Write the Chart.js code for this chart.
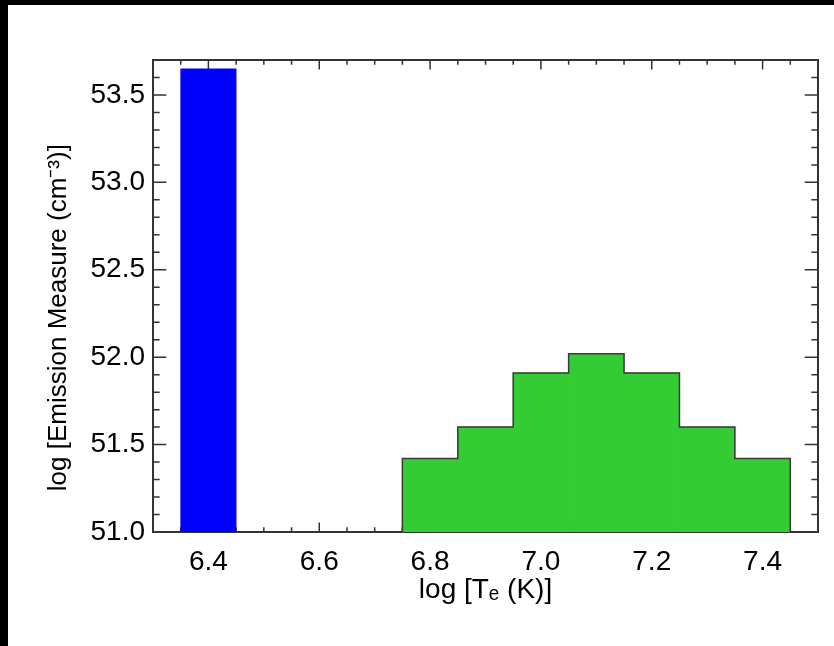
<!DOCTYPE html>
<html>
<head>
<meta charset="utf-8">
<script src="https://cdn.jsdelivr.net/npm/chart.js@4"></script>
<style>
    html, body { margin: 0; padding: 0; background: #000; width: 834px; height: 646px; overflow: hidden; }
    #em-chart { position: absolute; left: 8px; top: 5px; background: #fff; }
</style>
</head>
<body>
<canvas id="em-chart" width="826" height="641"></canvas>
<script>
// Emission measure distribution (bin centres in log T, values in log EM)
const coolTemps = [6.4];
const coolEM = [53.65];
const hotTemps = [6.8, 6.9, 7.0, 7.1, 7.2, 7.3, 7.4];
const hotEM = [51.42, 51.60, 51.91, 52.02, 51.91, 51.60, 51.42];
const binWidth = 0.1;

// Axes
const xMin = 6.3, xMax = 7.5;
const yMin = 51.0, yMax = 53.7;
const xTickValues = [6.4, 6.6, 6.8, 7.0, 7.2, 7.4];
const yTickValues = [51.0, 51.5, 52.0, 52.5, 53.0, 53.5];
const xMinorStep = 0.05;
const yMinorStep = 0.1;

const axisColor = '#333333';
const fontFamily = '"Liberation Sans", Arial, Helvetica, sans-serif';

// Outline of the histogram: step line over the bin edges
const outline = [{ x: hotTemps[0] - binWidth / 2, y: yMin }];
hotTemps.forEach((t, i) => outline.push({ x: t - binWidth / 2, y: hotEM[i] }));
outline.push({ x: hotTemps[hotTemps.length - 1] + binWidth / 2, y: hotEM[hotEM.length - 1] });
outline.push({ x: hotTemps[hotTemps.length - 1] + binWidth / 2, y: yMin });

// IDL-style inward ticks on all four sides
const inwardTicks = {
    id: 'inwardTicks',
    beforeDatasetsDraw(chart) {
        const { ctx, chartArea: a, scales: { x, y } } = chart;
        const xMajor = 0.02 * (a.bottom - a.top);
        const yMajor = 0.02 * (a.right - a.left);
        ctx.save();
        ctx.strokeStyle = axisColor;
        ctx.lineWidth = 1.5;
        ctx.beginPath();
        for (let v = xMin + xMinorStep; v < xMax - 1e-6; v += xMinorStep) {
            const isMajor = xTickValues.some(t => Math.abs(t - v) < 1e-6);
            const len = isMajor ? xMajor : xMajor / 2;
            const px = x.getPixelForValue(v);
            ctx.moveTo(px, a.bottom); ctx.lineTo(px, a.bottom - len);
            ctx.moveTo(px, a.top); ctx.lineTo(px, a.top + len);
        }
        for (let v = yMin + yMinorStep; v < yMax - 1e-6; v += yMinorStep) {
            const isMajor = yTickValues.some(t => Math.abs(t - v) < 1e-6);
            const len = isMajor ? yMajor : yMajor / 2;
            const py = y.getPixelForValue(v);
            ctx.moveTo(a.left, py); ctx.lineTo(a.left + len, py);
            ctx.moveTo(a.right, py); ctx.lineTo(a.right - len, py);
        }
        ctx.stroke();
        ctx.lineWidth = 2;
        ctx.strokeRect(a.left, a.top, a.right - a.left, a.bottom - a.top);
        ctx.restore();
    }
};

const ctx = document.getElementById('em-chart').getContext('2d');
new Chart(ctx, {
    data: {
        datasets: [
            {
                type: 'line',
                data: outline,
                stepped: 'before',
                borderColor: '#3a3a3a',
                borderWidth: 1.5,
                pointRadius: 0,
                fill: false,
                order: 0
            },
            {
                type: 'bar',
                data: hotTemps.map((t, i) => ({ x: t, y: hotEM[i] })),
                backgroundColor: '#33CC33',
                base: yMin,
                grouped: false,
                barPercentage: 1.0,
                categoryPercentage: 1.0,
                order: 1
            },
            {
                type: 'bar',
                data: coolTemps.map((t, i) => ({ x: t, y: coolEM[i] })),
                backgroundColor: '#0000FF',
                base: yMin,
                grouped: false,
                barPercentage: 1.0,
                categoryPercentage: 1.0,
                order: 1
            }
        ]
    },
    options: {
        responsive: false,
        animation: false,
        layout: { padding: { top: 55, right: 16, left: 0, bottom: 0 } },
        plugins: {
            legend: { display: false },
            tooltip: { enabled: false }
        },
        scales: {
            x: {
                type: 'linear',
                offset: false,
                min: xMin,
                max: xMax,
                afterFit: scale => { scale.height = 114; },
                afterBuildTicks: scale => { scale.ticks = xTickValues.map(v => ({ value: v })); },
                grid: { display: false, drawTicks: false, offset: false },
                border: { display: false },
                ticks: {
                    padding: 13,
                    color: '#000',
                    font: { family: fontFamily, size: 28 },
                    maxRotation: 0,
                    callback: v => v.toFixed(1)
                },
                title: {
                    display: true,
                    text: 'log [Tₑ (K)]',
                    color: '#000',
                    font: { family: fontFamily, size: 28 },
                    padding: { top: 0, bottom: 39 }
                }
            },
            y: {
                type: 'linear',
                min: yMin,
                max: yMax,
                afterFit: scale => { scale.width = 145; },
                afterBuildTicks: scale => { scale.ticks = yTickValues.map(v => ({ value: v })); },
                grid: { display: false, drawTicks: false },
                border: { display: false },
                ticks: {
                    padding: 8,
                    color: '#000',
                    font: { family: fontFamily, size: 28 },
                    callback: v => v.toFixed(1)
                },
                title: {
                    display: true,
                    text: 'log [Emission Measure (cm⁻³)]      ',
                    color: '#000',
                    font: { family: fontFamily, size: 26 },
                    padding: { top: 35, bottom: 0 }
                }
            }
        }
    },
    plugins: [inwardTicks]
});
</script>
</body>
</html>
